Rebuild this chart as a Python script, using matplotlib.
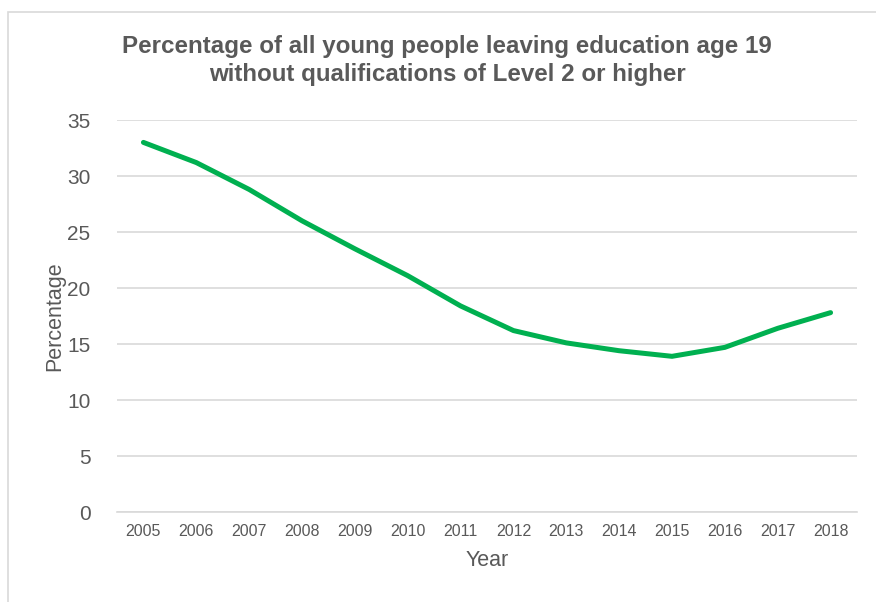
import matplotlib.pyplot as plt
from matplotlib.patches import Rectangle

# data
years = ['2005', '2006', '2007', '2008', '2009', '2010', '2011',
         '2012', '2013', '2014', '2015', '2016', '2017', '2018']
pct = [33.0, 31.2, 28.8, 26.0, 23.5, 21.1, 18.4,
       16.2, 15.1, 14.4, 13.9, 14.7, 16.4, 17.8]

plt.rcParams['font.family'] = ['Liberation Sans', 'DejaVu Sans']

W, H = 876, 602
fig = plt.figure(figsize=(W / 100, H / 100), dpi=100)

# chart border (cropped on the right and bottom)
fig.patches.append(Rectangle((8 / W, -0.1), 1.2, 1 - 12 / H + 0.1,
                             transform=fig.transFigure, fill=False,
                             edgecolor='#D9D9D9', linewidth=1.2))

ax = fig.add_axes([117 / W, 1 - 512 / H, 740 / W, 392 / H])

x = range(len(years))
ax.plot(x, pct, color='#00B050', linewidth=3.6,
        solid_capstyle='round', solid_joinstyle='round')

ax.set_xlim(-0.5, len(years) - 0.5)
ax.set_ylim(0, 35)
ax.set_yticks(range(0, 36, 5))
ax.set_xticks(list(x))
ax.set_xticklabels(years)

ax.grid(axis='y', color='#D9D9D9', linewidth=1.2)
ax.set_axisbelow(True)
for s in ['top', 'right', 'left']:
    ax.spines[s].set_visible(False)
ax.spines['bottom'].set_color('#D9D9D9')
ax.spines['bottom'].set_linewidth(1.2)

ax.tick_params(axis='y', length=0, pad=19, labelsize=15, labelcolor='#595959')
ax.tick_params(axis='x', length=0, pad=9, labelsize=11.5, labelcolor='#595959')

# axis titles
fig.text(55 / W, 1 - 316 / H, 'Percentage', rotation=90, fontsize=15.5,
         color='#595959', ha='center', va='center')
fig.text(487 / W, 1 - 561 / H, 'Year', fontsize=15.5,
         color='#595959', ha='center', va='center')

# chart title
fig.text(447 / W, 1 - 46 / H, 'Percentage of all young people leaving education age 19',
         fontsize=17.4, fontweight='bold', color='#595959', ha='center', va='center')
fig.text(447 / W, 1 - 75 / H, 'without qualifications of Level 2 or higher',
         fontsize=17.4, fontweight='bold', color='#595959', ha='center', va='center')

fig.savefig('out.png', dpi=100)
